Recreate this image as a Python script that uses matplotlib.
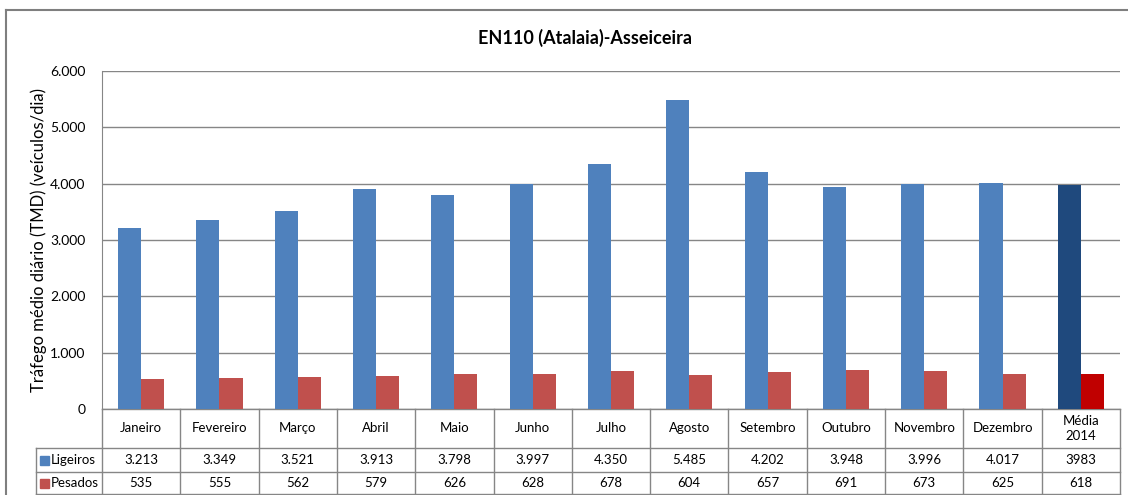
"""EN110 (Atalaia)-Asseiceira: tráfego médio diário por mês"""

import matplotlib.pyplot as plt
import matplotlib.transforms as mtransforms
from matplotlib.patches import Rectangle
from matplotlib.lines import Line2D

plt.rcParams['font.family'] = ['Lato', 'DejaVu Sans']

# Dados
meses = ['Janeiro', 'Fevereiro', 'Março', 'Abril', 'Maio', 'Junho', 'Julho',
         'Agosto', 'Setembro', 'Outubro', 'Novembro', 'Dezembro', 'Média\n2014']
ligeiros = [3213, 3349, 3521, 3913, 3798, 3997, 4350, 5485, 4202, 3948, 3996, 4017, 3983]
pesados = [535, 555, 562, 579, 626, 628, 678, 604, 657, 691, 673, 625, 618]
lig_txt = ['3.213', '3.349', '3.521', '3.913', '3.798', '3.997', '4.350', '5.485',
           '4.202', '3.948', '3.996', '4.017', '3983']
pes_txt = ['535', '555', '562', '579', '626', '628', '678', '604', '657', '691',
           '673', '625', '618']

cor_lig = '#4f81bd'
cor_pes = '#c0504d'
cor_lig_media = '#1f497d'
cor_pes_media = '#c00000'
cinza = '#868686'

W, H = 1128, 495
fig = plt.figure(figsize=(W / 100, H / 100), dpi=100)
ax = fig.add_axes([102 / W, (H - 409) / H, (1120 - 102) / W, (409 - 71) / H])

n = len(meses)
x = list(range(n))
bw = 0.295
cores_l = [cor_lig] * (n - 1) + [cor_lig_media]
cores_p = [cor_pes] * (n - 1) + [cor_pes_media]
ax.bar([i - bw / 2 for i in x], ligeiros, width=bw, color=cores_l, zorder=3)
ax.bar([i + bw / 2 for i in x], pesados, width=bw, color=cores_p, zorder=3)

ax.set_xlim(-0.5, n - 0.5)
ax.set_ylim(0, 6000)
ax.set_yticks(range(0, 6001, 1000))
ax.set_yticklabels(['0', '1.000', '2.000', '3.000', '4.000', '5.000', '6.000'], fontsize=10)
ax.set_xticks([])
ax.tick_params(axis='y', length=0, pad=12)
ax.grid(axis='y', color=cinza, linewidth=1, zorder=0)
for s in ['top', 'right', 'bottom']:
    ax.spines[s].set_visible(False)
ax.spines['left'].set_color(cinza)
ax.set_ylabel('Tráfego médio diário (TMD) (veículos/dia)', fontsize=12)
ax.yaxis.set_label_coords(-55 / 1018, 0.5)

fig.text(585 / W, (H - 38) / H, 'EN110 (Atalaia)-Asseiceira',
         ha='center', va='center', fontsize=13, fontweight='bold')

# Tabela de dados
tr = mtransforms.blended_transform_factory(ax.transData, ax.transAxes)
ah = 409 - 71
y0, y1, y2, y3 = 0, -39 / ah, -63 / ah, -85 / ah
xl = -0.5 - 66 / (1018 / n)
kw = dict(transform=tr, color=cinza, linewidth=1, clip_on=False)
ax.add_line(Line2D([-0.5, n - 0.5], [y0, y0], **kw))
ax.add_line(Line2D([xl, n - 0.5], [y1, y1], **kw))
ax.add_line(Line2D([xl, n - 0.5], [y2, y2], **kw))
ax.add_line(Line2D([xl, n - 0.5], [y3, y3], **kw))
ax.add_line(Line2D([xl, xl], [y1, y3], **kw))
ax.add_line(Line2D([-0.5, -0.5], [y0, y3], **kw))
for i in range(n):
    ax.add_line(Line2D([i + 0.5, i + 0.5], [y0, y3], **kw))
    ax.text(i, (y0 + y1) / 2, meses[i], transform=tr, ha='center', va='center',
            fontsize=9.5, linespacing=1.3)
    ax.text(i, (y1 + y2) / 2, lig_txt[i], transform=tr, ha='center', va='center', fontsize=9.5)
    ax.text(i, (y2 + y3) / 2, pes_txt[i], transform=tr, ha='center', va='center', fontsize=9.5)

for yy, cor, nome in [((y1 + y2) / 2, cor_lig, 'Ligeiros'), ((y2 + y3) / 2, cor_pes, 'Pesados')]:
    yf = ax.transAxes.transform((0, yy))[1] / H
    fig.patches.append(Rectangle((40 / W, yf - 4.5 / H), 9 / W, 9 / H, color=cor,
                                 transform=fig.transFigure))
    fig.text(51 / W, yf, nome, ha='left', va='center', fontsize=9.5)

# Moldura exterior
fig.add_artist(Line2D([6 / W, 6 / W], [0, (H - 10) / H], color='#7f7f7f', linewidth=1.5,
                      transform=fig.transFigure))
fig.add_artist(Line2D([6 / W, 1], [(H - 10) / H, (H - 10) / H], color='#7f7f7f',
                      linewidth=1.5, transform=fig.transFigure))

fig.savefig('out.png', dpi=100)
